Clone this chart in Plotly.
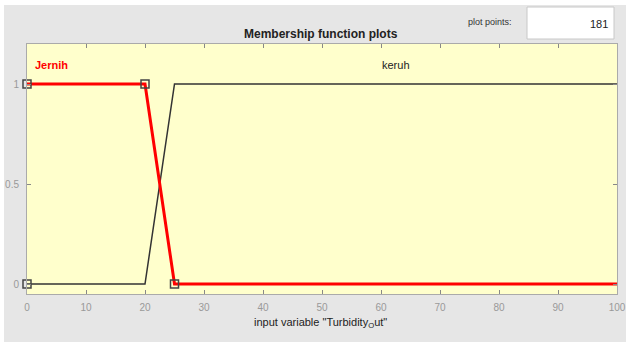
import plotly.graph_objects as go

# Data
jernih_x = [0, 20, 25, 100]
jernih_y = [1, 1, 0, 0]
keruh_x = [0, 20, 25, 100]
keruh_y = [0, 0, 1, 1]
marker_x = [0, 0, 20, 25]
marker_y = [0, 1, 1, 0]
mf_names = ["Jernih", "keruh"]
label_x = [1.0, 62.5]
label_y = 1.095
x_ticks = list(range(0, 101, 10))
y_ticks = [0, 0.5, 1]

W, H = 630, 342
L, R, T, B = 27, 13, 44, 48
pw, ph = W - L - R, H - T - B

def px(xp):
    return (xp - L) / pw

def py(yp):
    return (H - B - yp) / ph

fig = go.Figure()
fig.add_trace(go.Scatter(x=keruh_x, y=keruh_y, mode="lines",
                         line=dict(color="#333333", width=1.5), hoverinfo="skip"))
fig.add_trace(go.Scatter(x=jernih_x, y=jernih_y, mode="lines",
                         line=dict(color="#ff0000", width=3), hoverinfo="skip"))
fig.add_trace(go.Scatter(x=marker_x, y=marker_y, mode="markers", cliponaxis=False,
                         marker=dict(symbol="square-open", size=8,
                                     color="#444444", line=dict(width=1.5)),
                         hoverinfo="skip"))

shapes = [
    dict(type="rect", xref="paper", yref="paper", x0=px(4), x1=px(626), y0=py(343), y1=py(5),
         fillcolor="#e6e6e6", line=dict(width=0), layer="below"),
    dict(type="rect", xref="paper", yref="paper", x0=0, x1=1, y0=0, y1=1,
         fillcolor="#ffffcc", line=dict(width=0), layer="below"),
    dict(type="rect", xref="paper", yref="paper", x0=px(527), x1=px(614), y0=py(39), y1=py(7),
         fillcolor="#ffffff", line=dict(color="#c8c8c8", width=1), layer="below"),
]

FONT = "Liberation Sans, Arial"
annotations = [
    dict(text="<b>Membership function plots</b>", xref="paper", yref="paper",
         x=px(321), y=py(34), xanchor="center", yanchor="middle", showarrow=False,
         font=dict(size=12, color="#222222", family=FONT)),
    dict(text="plot points:", xref="paper", yref="paper",
         x=px(490), y=py(22), xanchor="center", yanchor="middle", showarrow=False,
         font=dict(size=9, color="#333333", family=FONT)),
    dict(text="181", xref="paper", yref="paper",
         x=px(610), y=py(24), xanchor="right", yanchor="middle", showarrow=False,
         font=dict(size=11, color="#222222", family=FONT)),
    dict(text="<b>" + mf_names[0] + "</b>", x=label_x[0], y=label_y, xanchor="left",
         yanchor="middle", showarrow=False,
         font=dict(size=11, color="#ff0000", family=FONT)),
    dict(text=mf_names[1], x=label_x[1], y=label_y, xanchor="center",
         yanchor="middle", showarrow=False,
         font=dict(size=11, color="#222222", family=FONT)),
    dict(text='input variable "Turbidity<sub>O</sub>ut"', xref="paper", yref="paper",
         x=px(320), y=py(323), xanchor="center", yanchor="middle", showarrow=False,
         font=dict(size=11, color="#222222", family=FONT)),
]

fig.update_layout(
    width=W, height=H,
    margin=dict(l=L, r=R, t=T, b=B, pad=0, autoexpand=False),
    paper_bgcolor="#ffffff",
    plot_bgcolor="rgba(0,0,0,0)",
    showlegend=False,
    shapes=shapes,
    annotations=annotations,
    xaxis=dict(range=[0, 100], tickvals=x_ticks, ticks="inside", ticklen=4,
               tickcolor="#888888", mirror="allticks", showline=True, linecolor="#aaaaaa",
               linewidth=1, showgrid=False, zeroline=False, ticklabelstandoff=4,
               automargin=False,
               tickfont=dict(size=10, color="#999999", family=FONT)),
    yaxis=dict(range=[-0.05, 1.2], tickvals=y_ticks, ticktext=["0", "0.5", "1"],
               ticks="inside", ticklen=4, tickcolor="#888888", mirror="allticks",
               showline=True, linecolor="#aaaaaa", linewidth=1, showgrid=False,
               zeroline=False, ticklabelstandoff=5, automargin=False,
               tickfont=dict(size=10, color="#999999", family=FONT)),
)

fig.write_html("out.html", config={"displayModeBar": False},
               post_script="document.body.style.margin='0';document.body.style.overflow='hidden';")
